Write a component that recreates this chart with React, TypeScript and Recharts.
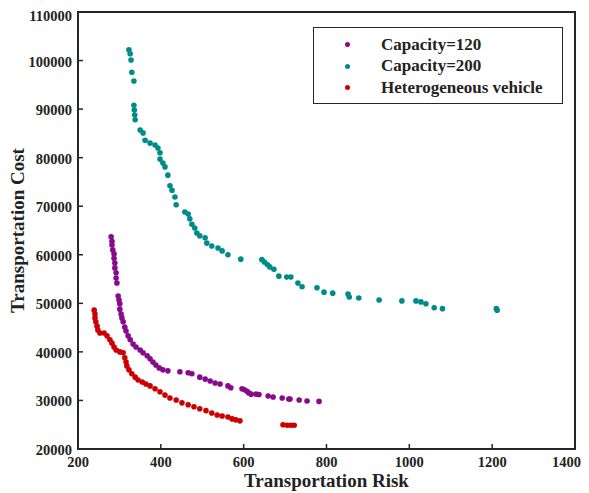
import React from 'react';
import { ScatterChart, Scatter, XAxis, YAxis, Legend } from 'recharts';

const xTicks = [200, 400, 600, 800, 1000, 1200, 1400];
const yTicks = [20000, 30000, 40000, 50000, 60000, 70000, 80000, 90000, 100000, 110000];

const seriesNames = ['Capacity=120', 'Capacity=200', 'Heterogeneous vehicle'];
const seriesColors = ['#880A8C', '#008B8B', '#CC0000'];

const cap120X = [280, 282, 282, 284, 287, 287, 289, 289, 292, 292, 294, 297, 299, 301, 301, 304, 306, 309, 313, 316, 321, 326, 333, 340, 350, 357, 367, 374, 381, 388, 396, 405, 417, 446, 466, 475, 494, 507, 519, 531, 543, 562, 569, 596, 602, 608, 612, 618, 630, 637, 659, 671, 693, 709, 712, 734, 753, 782];
const cap120Y = [63700, 62800, 62000, 61000, 60200, 59300, 58300, 57300, 56300, 55200, 54200, 51500, 50700, 49900, 48800, 47800, 47000, 46200, 45100, 44300, 43300, 42500, 41600, 41000, 40400, 39800, 39200, 38600, 37900, 37300, 36700, 36300, 36100, 35900, 35700, 35500, 34800, 34400, 34000, 33600, 33400, 33000, 32600, 32400, 32200, 31900, 31600, 31300, 31300, 31200, 30900, 30700, 30500, 30300, 30300, 30100, 29900, 29800];

const cap200X = [323, 326, 328, 330, 335, 335, 336, 337, 338, 350, 357, 362, 374, 386, 393, 398, 398, 405, 410, 417, 422, 427, 434, 437, 458, 466, 470, 475, 482, 487, 494, 507, 511, 523, 538, 548, 562, 593, 644, 650, 657, 663, 673, 685, 704, 714, 731, 741, 777, 794, 815, 852, 855, 878, 927, 982, 1016, 1028, 1040, 1060, 1080, 1210, 1212];
const cap200Y = [102200, 101400, 100100, 97600, 95800, 90800, 89800, 88800, 87800, 85700, 85100, 83600, 83000, 82600, 82000, 81000, 79700, 78900, 78100, 76400, 74200, 73300, 71900, 70300, 68800, 68400, 67400, 66300, 65500, 64500, 63900, 63500, 62400, 61800, 61400, 60800, 60000, 59100, 59000, 58500, 58000, 57500, 57000, 55600, 55400, 55400, 54200, 53400, 53200, 52300, 52100, 51900, 51300, 51100, 50700, 50500, 50500, 50300, 49900, 49100, 48900, 48900, 48600];

const heteroX = [239, 241, 241, 243, 246, 248, 253, 263, 270, 277, 282, 287, 292, 301, 309, 313, 316, 318, 323, 330, 338, 345, 355, 364, 374, 386, 398, 410, 422, 437, 451, 466, 480, 494, 509, 523, 536, 548, 562, 572, 581, 591, 695, 705, 714, 722];
const heteroY = [48600, 47800, 47000, 46200, 45300, 44500, 43900, 43900, 43300, 42500, 41800, 41000, 40400, 40000, 39800, 38800, 37900, 37100, 36300, 35500, 34800, 34200, 33800, 33400, 33000, 32400, 31800, 31100, 30500, 30100, 29500, 29100, 28700, 28300, 27900, 27400, 27000, 26800, 26600, 26200, 26000, 25800, 25000, 24900, 24900, 24900];

const toPoints = (xs: number[], ys: number[]) => xs.map((x, i) => ({ x, y: ys[i] }));
const seriesData = [toPoints(cap120X, cap120Y), toPoints(cap200X, cap200Y), toPoints(heteroX, heteroY)];

const FONT = '"Liberation Serif", "Times New Roman", serif';
const AXIS = '#262626';
const TEXT = '#222222';
const TL = 5;
const BW = 2;

const CHART_W = 573;
const CHART_H = 485;
const MARGIN = { top: 4, right: 6, bottom: 0, left: 0 };
const Y_W = 70;
const X_H = 44;

const BottomTick = (props: any) => {
  const { x, y, payload, index, visibleTicksCount } = props;
  const last = index === visibleTicksCount - 1;
  return (
    <g>
      <line x1={x} y1={y} x2={x} y2={y - TL} style={{ stroke: AXIS, strokeWidth: 1.5 }} />
      <text
        x={last ? x + 6 : x}
        y={y + 18}
        textAnchor={last ? 'end' : 'middle'}
        fontFamily={FONT}
        fontWeight="bold"
        fontSize={14.5}
        fill={TEXT}
      >
        {payload.value}
      </text>
    </g>
  );
};

const LeftTick = (props: any) => {
  const { x, y, payload, index, visibleTicksCount } = props;
  const top = index === visibleTicksCount - 1;
  return (
    <g>
      <line x1={x} y1={y} x2={x + TL} y2={y} style={{ stroke: AXIS, strokeWidth: 1.5 }} />
      <text x={x - 6} y={y + (top ? 9 : 6)} textAnchor="end" fontFamily={FONT} fontWeight="bold" fontSize={14.5} fill={TEXT}>
        {payload.value}
      </text>
    </g>
  );
};

const TopTick = (props: any) => {
  const { x, y } = props;
  return <line x1={x} y1={y} x2={x} y2={y + TL} style={{ stroke: AXIS, strokeWidth: 1.5 }} />;
};

const RightTick = (props: any) => {
  const { x, y } = props;
  return <line x1={x} y1={y} x2={x - TL} y2={y} style={{ stroke: AXIS, strokeWidth: 1.5 }} />;
};

const Dot = (color: string) => (props: any) => {
  const { cx, cy } = props;
  return <circle cx={cx} cy={cy} r={2.8} fill={color} />;
};

const LegendBox = () => (
  <div
    style={{
      border: `1.3px solid ${AXIS}`,
      background: '#fff',
      width: 250,
      height: 77,
      boxSizing: 'border-box',
      paddingTop: 6,
      fontFamily: FONT,
      fontWeight: 'bold',
      fontSize: 17,
      color: TEXT,
    }}
  >
    {seriesNames.map((name, i) => (
      <div key={name} style={{ display: 'flex', alignItems: 'center', height: 21.5 }}>
        <span
          style={{
            display: 'inline-block',
            width: 5,
            height: 5,
            borderRadius: '50%',
            background: seriesColors[i],
            marginLeft: 31,
            marginRight: 31,
          }}
        />
        <span>{name}</span>
      </div>
    ))}
  </div>
);

export default function App() {
  const plotW = CHART_W - MARGIN.left - MARGIN.right - Y_W;
  const plotH = CHART_H - MARGIN.top - MARGIN.bottom - X_H;
  return (
    <div style={{ position: 'relative', width: CHART_W, height: CHART_H }}>
      <ScatterChart width={CHART_W} height={CHART_H} margin={MARGIN}>
        <XAxis
          dataKey="x"
          type="number"
          domain={[200, 1400]}
          ticks={xTicks}
          allowDataOverflow
          height={X_H}
          tickSize={0}
          tickMargin={0}
          tickLine={false}
          axisLine={false}
          tick={<BottomTick />}
          interval={0}
          label={{
            position: 'center',
            content: (p: any) => {
              const vb = p.viewBox;
              return (
                <text x={vb.x + vb.width / 2} y={vb.y + 38} textAnchor="middle" fontFamily={FONT} fontWeight="bold" fontSize={19} fill={TEXT}>
                  Transportation Risk
                </text>
              );
            },
          }}
        />
        <XAxis
          xAxisId="top"
          orientation="top"
          type="number"
          domain={[200, 1400]}
          ticks={xTicks}
          allowDataOverflow
          height={0}
          tickSize={0}
          tickMargin={0}
          tickLine={false}
          axisLine={false}
          tick={<TopTick />}
          interval={0}
        />
        <YAxis
          dataKey="y"
          type="number"
          domain={[20000, 110000]}
          ticks={yTicks}
          allowDataOverflow
          width={Y_W}
          tickSize={0}
          tickMargin={0}
          tickLine={false}
          axisLine={false}
          tick={<LeftTick />}
          interval={0}
          label={{
            position: 'center',
            content: (p: any) => {
              const vb = p.viewBox;
              const cx = vb.x + 16;
              const cy = vb.y + vb.height / 2;
              return (
                <text x={cx} y={cy} transform={`rotate(-90, ${cx}, ${cy})`} textAnchor="middle" fontFamily={FONT} fontWeight="bold" fontSize={19} fill={TEXT}>
                  Transportation Cost
                </text>
              );
            },
          }}
        />
        <YAxis
          yAxisId="right"
          orientation="right"
          type="number"
          domain={[20000, 110000]}
          ticks={yTicks}
          allowDataOverflow
          width={0}
          tickSize={0}
          tickMargin={0}
          tickLine={false}
          axisLine={false}
          tick={<RightTick />}
          interval={0}
        />
        <Legend
          layout="horizontal"
          verticalAlign="middle"
          align="center"
          content={<LegendBox />}
          wrapperStyle={{ position: 'absolute', left: 305, top: 19, width: 250, height: 77 }}
        />
        {seriesData.map((d, i) => (
          <Scatter
            key={seriesNames[i]}
            name={seriesNames[i]}
            data={d}
            fill={seriesColors[i]}
            shape={Dot(seriesColors[i])}
            isAnimationActive={false}
          />
        ))}
      </ScatterChart>
      <div
        style={{
          position: 'absolute',
          left: MARGIN.left + Y_W - BW / 2,
          top: MARGIN.top - BW / 2,
          width: plotW + BW,
          height: plotH + BW,
          boxSizing: 'border-box',
          border: `${BW}px solid ${AXIS}`,
          pointerEvents: 'none',
        }}
      />
    </div>
  );
}
